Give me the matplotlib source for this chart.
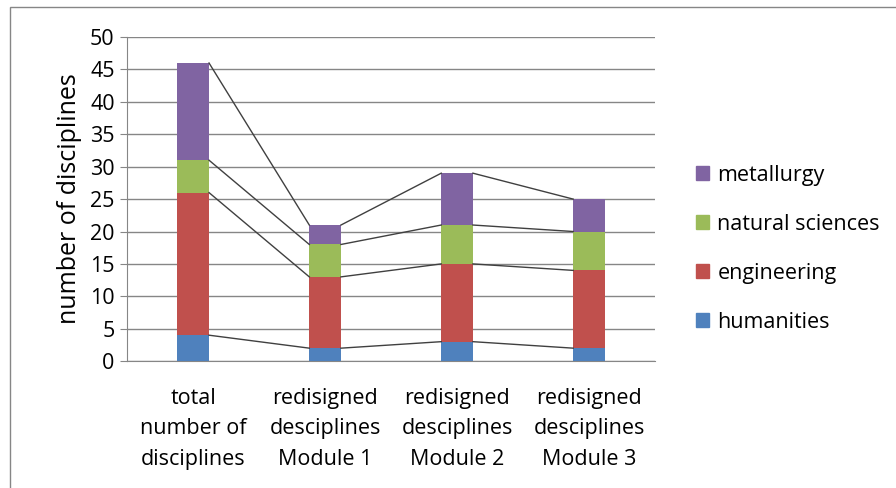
import matplotlib.pyplot as plt
import numpy as np
from matplotlib.patches import Patch, Rectangle

categories = ["total\nnumber of\ndisciplines", "redisigned\ndesciplines\nModule 1",
              "redisigned\ndesciplines\nModule 2", "redisigned\ndesciplines\nModule 3"]
humanities = [4, 2, 3, 2]
engineering = [22, 11, 12, 12]
natural_sciences = [5, 5, 6, 6]
metallurgy = [15, 3, 8, 5]

series = [("humanities", humanities, "#4f81bd"),
          ("engineering", engineering, "#c0504d"),
          ("natural sciences", natural_sciences, "#9bbb59"),
          ("metallurgy", metallurgy, "#8064a2")]

plt.rcParams['font.family'] = ['Open Sans', 'DejaVu Sans']

fig = plt.figure(figsize=(8.96, 4.88), dpi=100)
ax = fig.add_axes([0.142, 0.260, 0.589, 0.664])

x = np.arange(len(categories))
w = 0.24
bottom = np.zeros(len(categories))
for name, vals, col in series:
    ax.bar(x, vals, w, bottom=bottom, color=col, zorder=3)
    bottom = bottom + np.array(vals)
    # series lines between bar edges
    for i in range(len(x) - 1):
        ax.plot([x[i] + w / 2, x[i + 1] - w / 2], [bottom[i], bottom[i + 1]],
                color="#404040", lw=1, zorder=4)

ax.set_xlim(-0.5, 3.5)
ax.set_ylim(0, 50)
ax.set_yticks(range(0, 51, 5))
ax.set_xticks(x)
ax.set_xticklabels(categories, fontsize=15.5, linespacing=1.62)
ax.tick_params(axis='y', labelsize=15.5, length=5, color="#868686", pad=4)
ax.tick_params(axis='x', length=0, pad=19)
ax.yaxis.grid(True, color="#868686", lw=1, zorder=0)
for s in ["top", "right"]:
    ax.spines[s].set_visible(False)
ax.spines["left"].set_color("#868686")
ax.spines["bottom"].set_color("#868686")
ax.set_ylabel("number of disciplines", fontsize=18, labelpad=6)

handles = [Patch(color=c, label=n) for n, v, c in series][::-1]
fig.legend(handles=handles, loc="center left", bbox_to_anchor=(0.755, 0.49),
           frameon=False, fontsize=15.5, handlelength=0.6, handleheight=0.6,
           handletextpad=0.4, labelspacing=1.3)

fig.patches.append(Rectangle((0.011, -0.01), 1.2, 0.995, transform=fig.transFigure,
                             fill=False, edgecolor="#868686", lw=1))

fig.savefig("out.png", dpi=100)
